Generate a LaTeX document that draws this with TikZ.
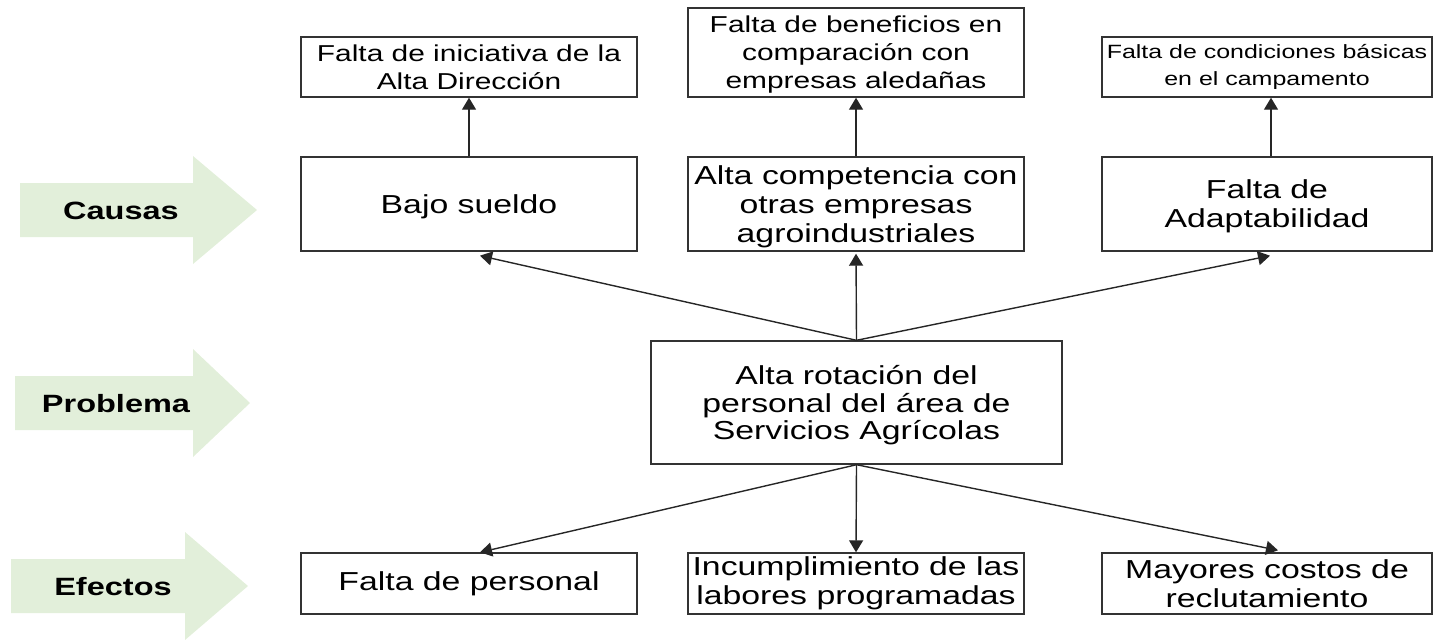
\documentclass[tikz,border=0pt]{standalone}
\usepackage{fontspec}
\setmainfont[FakeStretch=1.3]{Liberation Sans}
\usetikzlibrary{arrows.meta}

\definecolor{flecha}{HTML}{E2EFDA}

\begin{document}
\begin{tikzpicture}[x=0.5pt,y=-0.5pt,
	caja/.style={draw=black!80, line width=0.7pt, inner sep=0pt, align=center,
		font=\fontsize{13}{14.5}\selectfont},
	cajasup/.style={caja, font=\fontsize{11.5}{14}\selectfont},
	conn/.style={draw=black!85, line width=0.7pt, -{Triangle[length=6pt,width=7pt]}},
	etiq/.style={font=\fontsize{12.5}{14}\selectfont\bfseries}]
	\useasboundingbox (0,0) rectangle (1434,639);

	% flechas de la izquierda
	\foreach \xa/\xb/\xc/\ym/\tx/\lab/\nom in {20/193/257/210/121/Causas/causas,
			15/193/250/403/116/Problema/problema,
			11/185/248/586/113/Efectos/efectos} {
		\fill[flecha] (\xa,\ym-27) -- (\xb,\ym-27) -- (\xb,\ym-54) -- (\xc,\ym)
			-- (\xb,\ym+54) -- (\xb,\ym+27) -- (\xa,\ym+27) -- cycle;
		\node[etiq] (\nom) at (\tx,\ym+1) {\lab};
	}

	% causas secundarias
	\node[cajasup, minimum width=168pt, minimum height=30pt] (ini) at (469,67)
		{Falta de iniciativa de la\\Alta Dirección};
	\node[cajasup, text depth=0pt, minimum width=168pt, minimum height=44.5pt] (ben) at (856,52.5)
		{Falta de beneficios en\\comparación con\\empresas aledañas};
	\node[caja, font=\fontsize{9.6}{13.5}\selectfont, minimum width=165pt, minimum height=30pt] (cond) at (1267,67)
		{Falta de condiciones básicas\\en el campamento};

	% causas
	\node[caja, text depth=0pt, minimum width=168pt, minimum height=47pt] (sueldo) at (469,204) {Bajo sueldo};
	\node[caja, text depth=0pt, minimum width=168pt, minimum height=47pt] (comp) at (856,204)
		{Alta competencia con\\otras empresas\\agroindustriales};
	\node[caja, text depth=0pt, minimum width=165pt, minimum height=47pt] (adapt) at (1267,204)
		{Falta de\\Adaptabilidad};

	% problema
	\node[caja, text depth=0pt, font=\fontsize{13}{13.75}\selectfont, minimum width=205.5pt, minimum height=61.5pt] (prob) at (856.5,402.5)
		{Alta rotación del\\personal del área de\\Servicios Agrícolas};

	% efectos
	\node[caja, minimum width=168pt, minimum height=30.5pt] (falta) at (469,583.5) {Falta de personal};
	\node[caja, minimum width=168pt, minimum height=30.5pt] (incump) at (856,583.5)
		{Incumplimiento de las\\labores programadas};
	\node[caja, minimum width=165pt, minimum height=30.5pt] (costos) at (1267,583.5)
		{Mayores costos de\\reclutamiento};

	\draw[conn] (sueldo.north) -- (ini.south);
	\draw[conn] (comp.north) -- (ben.south);
	\draw[conn] ([xshift=2pt]adapt.north) -- ([xshift=2pt]cond.south);

	\draw[conn] (prob.north) -- ([xshift=5.5pt,yshift=-2pt]sueldo.south);
	\draw[conn] (prob.north) -- ([yshift=-1pt]comp.south);
	\draw[conn] (prob.north) -- ([xshift=1.5pt,yshift=-2pt]adapt.south);

	\draw[conn] (prob.south) -- ([xshift=5.5pt]falta.north);
	\draw[conn] (prob.south) -- (incump.north);
	\draw[conn] (prob.south) -- ([xshift=5.5pt,yshift=1pt]costos.north);
\end{tikzpicture}
\end{document}
